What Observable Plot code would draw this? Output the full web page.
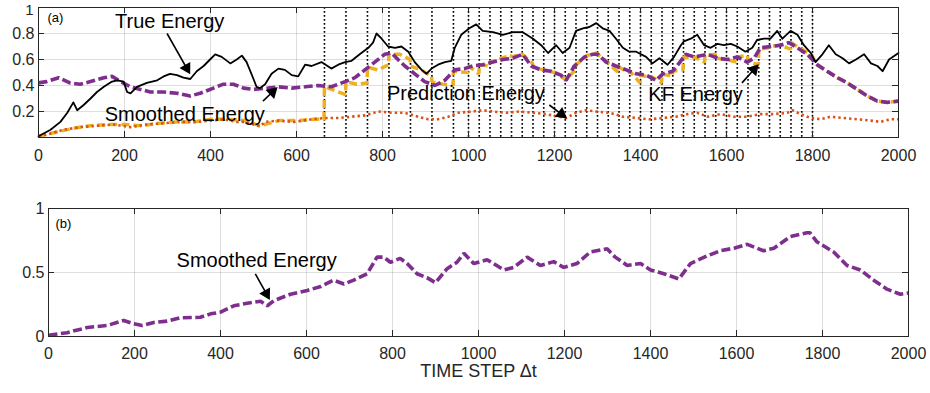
<!DOCTYPE html>
<html><head><meta charset="utf-8">
<script src="https://cdn.jsdelivr.net/npm/d3@7"></script>
<script src="https://cdn.jsdelivr.net/npm/@observablehq/plot@0.6"></script>
<style>
body{margin:0;background:#fff;font-family:"Liberation Sans",Arial,sans-serif}
#chart{position:relative;width:930px;height:393px;overflow:hidden}
#chart svg{display:block}
</style></head><body><div id="chart"></div>
<script>
// ---- data (time step, energy) ----
const xTicks = [0,200,400,600,800,1000,1200,1400,1600,1800,2000];
const yTicksA = [0.2,0.4,0.6,0.8,1];
const yTicksB = [0,0.5,1];

const trueEnergy = [[0,0.01],[28,0.06],[51,0.12],[67,0.19],[81,0.27],[90,0.21],[105,0.25],[121,0.30],[136,0.35],[152,0.39],[171,0.43],[183,0.44],[198,0.43],[206,0.35],[214,0.34],[229,0.39],[252,0.42],[276,0.44],[291,0.47],[306,0.49],[322,0.48],[337,0.46],[353,0.45],[368,0.51],[384,0.55],[399,0.60],[411,0.64],[426,0.62],[446,0.57],[461,0.60],[473,0.63],[484,0.58],[500,0.45],[507,0.39],[515,0.38],[527,0.41],[542,0.49],[558,0.53],[573,0.52],[589,0.48],[604,0.47],[620,0.56],[635,0.55],[658,0.58],[681,0.53],[697,0.56],[713,0.58],[728,0.59],[747,0.64],[767,0.69],[778,0.73],[786,0.80],[798,0.76],[813,0.70],[829,0.69],[844,0.70],[860,0.66],[875,0.58],[891,0.52],[902,0.49],[914,0.53],[929,0.56],[945,0.58],[960,0.59],[968,0.69],[983,0.79],[1002,0.84],[1018,0.87],[1033,0.82],[1057,0.81],[1080,0.79],[1103,0.81],[1126,0.81],[1150,0.76],[1169,0.71],[1185,0.65],[1204,0.71],[1219,0.65],[1235,0.69],[1250,0.82],[1266,0.84],[1281,0.85],[1297,0.88],[1312,0.84],[1328,0.82],[1343,0.76],[1359,0.69],[1374,0.66],[1390,0.66],[1413,0.62],[1428,0.57],[1444,0.61],[1463,0.56],[1478,0.62],[1494,0.71],[1501,0.74],[1517,0.76],[1532,0.79],[1548,0.71],[1563,0.69],[1579,0.72],[1594,0.71],[1610,0.72],[1625,0.70],[1644,0.66],[1660,0.69],[1671,0.75],[1687,0.76],[1702,0.76],[1718,0.82],[1730,0.76],[1749,0.82],[1765,0.79],[1780,0.71],[1796,0.65],[1807,0.58],[1823,0.64],[1838,0.71],[1854,0.64],[1870,0.61],[1885,0.57],[1901,0.60],[1920,0.64],[1936,0.57],[1951,0.55],[1963,0.51],[1978,0.60],[2000,0.65]];

const smoothedEnergyA = [[0,0.42],[19,0.43],[47,0.46],[73,0.42],[97,0.41],[121,0.43],[152,0.46],[171,0.47],[191,0.43],[214,0.39],[237,0.37],[260,0.35],[291,0.35],[322,0.34],[353,0.32],[376,0.34],[407,0.38],[430,0.41],[453,0.41],[477,0.38],[500,0.37],[534,0.38],[558,0.39],[589,0.38],[620,0.39],[650,0.40],[681,0.39],[713,0.43],[736,0.46],[759,0.52],[782,0.58],[805,0.64],[821,0.65],[836,0.60],[852,0.55],[875,0.49],[898,0.43],[922,0.40],[945,0.44],[968,0.52],[991,0.53],[1010,0.55],[1033,0.56],[1057,0.58],[1080,0.60],[1103,0.61],[1126,0.64],[1146,0.55],[1169,0.52],[1192,0.51],[1215,0.48],[1227,0.44],[1246,0.55],[1270,0.62],[1289,0.64],[1301,0.64],[1320,0.58],[1343,0.55],[1367,0.52],[1390,0.49],[1413,0.48],[1436,0.44],[1452,0.49],[1475,0.51],[1494,0.59],[1505,0.64],[1525,0.62],[1556,0.64],[1579,0.61],[1602,0.60],[1625,0.62],[1648,0.58],[1664,0.61],[1679,0.69],[1702,0.70],[1726,0.71],[1745,0.73],[1765,0.69],[1788,0.64],[1811,0.56],[1834,0.51],[1858,0.46],[1881,0.42],[1904,0.37],[1927,0.32],[1951,0.28],[1974,0.27],[2000,0.28]];

const predictionEnergy = [[0,0.01],[28,0.03],[59,0.06],[97,0.08],[136,0.09],[175,0.10],[214,0.08],[252,0.10],[291,0.11],[330,0.12],[368,0.12],[399,0.13],[430,0.14],[461,0.12],[484,0.12],[500,0.10],[515,0.085],[527,0.12],[558,0.13],[596,0.12],[635,0.14],[666,0.15],[697,0.15],[728,0.16],[759,0.17],[790,0.20],[821,0.19],[852,0.19],[883,0.16],[906,0.14],[929,0.14],[953,0.16],[976,0.19],[1010,0.20],[1033,0.21],[1057,0.20],[1088,0.19],[1119,0.20],[1150,0.19],[1180,0.18],[1211,0.16],[1227,0.15],[1250,0.19],[1274,0.21],[1297,0.20],[1328,0.19],[1359,0.16],[1390,0.15],[1421,0.14],[1452,0.15],[1483,0.16],[1509,0.18],[1532,0.19],[1556,0.16],[1587,0.18],[1617,0.16],[1648,0.16],[1679,0.18],[1711,0.18],[1741,0.19],[1753,0.21],[1772,0.18],[1796,0.15],[1819,0.14],[1842,0.16],[1873,0.15],[1904,0.14],[1935,0.13],[1958,0.12],[1981,0.14],[2000,0.14]];

const kfEnergy = [[0,0.01],[40,0.04],[80,0.07],[120,0.09],[160,0.10],[200,0.10],[240,0.09],[280,0.11],[320,0.12],[360,0.12],[400,0.14],[440,0.14],[480,0.13],[515,0.09],[560,0.13],[600,0.13],[640,0.14],[664,0.14],
[665,0.39],[690,0.36],[714,0.33],[715,0.43],[740,0.41],[764,0.42],[765,0.54],[790,0.52],[814,0.56],[815,0.64],[840,0.64],[864,0.60],[865,0.55],[890,0.52],[914,0.47],[915,0.43],[940,0.41],[964,0.40],[965,0.51],[999,0.50],
[1000,0.55],[1024,0.49],[1025,0.56],[1049,0.55],[1050,0.58],[1074,0.60],[1075,0.61],[1099,0.63],[1100,0.62],[1124,0.64],[1125,0.64],[1149,0.57],[1150,0.54],[1174,0.52],[1175,0.52],[1199,0.50],[1200,0.50],[1224,0.45],[1225,0.44],[1249,0.52],[1250,0.56],[1274,0.62],[1275,0.63],[1299,0.65],[1300,0.64],[1324,0.58],[1325,0.57],[1349,0.50],[1350,0.54],[1374,0.50],[1375,0.51],[1399,0.42],[1400,0.48],[1424,0.46],[1425,0.47],[1449,0.42],[1450,0.49],[1474,0.47],[1475,0.51],[1499,0.52],[1500,0.62],[1524,0.61],[1525,0.62],[1549,0.58],[1550,0.63],[1574,0.64],[1575,0.61],[1599,0.60],[1600,0.60],[1624,0.58],[1625,0.62],[1649,0.63],[1650,0.58],[1674,0.56],[1675,0.68],[1699,0.69],[1700,0.70],[1724,0.71],[1725,0.71],[1749,0.68],[1750,0.73],[1774,0.68],[1775,0.68],[1799,0.63],[1800,0.62],
[1811,0.56],[1834,0.51],[1858,0.46],[1881,0.42],[1904,0.37],[1927,0.32],[1951,0.28],[1974,0.27],[2000,0.28]];

const assimilationSteps = [665,715,765,815,865,915,965,1000,1025,1050,1075,1100,1125,1150,1175,1200,1225,1250,1275,1300,1325,1350,1375,1400,1425,1450,1475,1500,1525,1550,1575,1600,1625,1650,1675,1700,1725,1750,1775,1800];

const smoothedEnergyB = [[0,0.01],[43,0.03],[90,0.07],[136,0.086],[175,0.125],[198,0.10],[218,0.086],[245,0.11],[276,0.12],[307,0.146],[353,0.15],[377,0.177],[400,0.19],[431,0.24],[462,0.26],[493,0.276],[509,0.24],[524,0.28],[563,0.33],[602,0.36],[633,0.39],[663,0.44],[687,0.41],[710,0.44],[741,0.49],[764,0.62],[780,0.62],[795,0.58],[818,0.61],[834,0.57],[857,0.49],[880,0.46],[900,0.42],[927,0.53],[950,0.58],[966,0.65],[989,0.57],[1020,0.60],[1059,0.52],[1082,0.54],[1113,0.62],[1144,0.555],[1175,0.585],[1198,0.54],[1229,0.57],[1260,0.66],[1299,0.685],[1318,0.62],[1346,0.555],[1377,0.57],[1400,0.52],[1431,0.49],[1466,0.45],[1493,0.57],[1532,0.63],[1563,0.67],[1594,0.69],[1625,0.72],[1663,0.67],[1687,0.69],[1725,0.78],[1764,0.81],[1771,0.81],[1787,0.74],[1826,0.66],[1857,0.555],[1888,0.52],[1919,0.44],[1950,0.37],[1981,0.33],[2000,0.34]];

// annotations (data coordinates)
const labelsA = [
  {x:305, y:0.89, text:"True Energy"},
  {x:340, y:0.173, text:"Smoothed Energy"},
  {x:994, y:0.335, text:"Prediction Energy"},
  {x:1528, y:0.327, text:"KF Energy"}
];
const arrowsA = [
  {x1:299, y1:0.80, x2:352, y2:0.49},
  {x1:522, y1:0.28, x2:555, y2:0.385},
  {x1:1188, y1:0.25, x2:1228, y2:0.15},
  {x1:1636, y1:0.42, x2:1674, y2:0.56}
];
const labelsB = [{x:484, y:0.594, text:"Smoothed Energy"}];
const arrowsB = [{x1:481, y1:0.49, x2:514, y2:0.29}];

// ---- drawing ----
const C = {purple:"#7E2F8E", orange:"#EDB120", red:"#D95319", axis:"#262626"};
const fmt = d => `${d}`;
const style = {fontFamily:"'Liberation Sans', Arial, sans-serif", fontSize:"16px", color:"#262626", background:"#fff", overflow:"visible"};
const P = (d) => ({x: d[0], y: d[1]});

// filled arrow heads: shaft (link) + rotated triangle at the tip
function arrowMarks(arrows, kx, ky) {
  const tipBack = 6.5;
  const heads = arrows.map(a => {
    const px = (a.x2 - a.x1) * kx, py = -(a.y2 - a.y1) * ky;
    const L = Math.hypot(px, py), ux = px / L, uy = py / L;
    return {
      x: a.x2 - ux * tipBack / kx,
      y: a.y2 + uy * tipBack / ky,
      angle: Math.atan2(ux, -uy) * 180 / Math.PI
    };
  });
  return [
    Plot.link(arrows.map((a, i) => ({x1: a.x1, y1: a.y1, x2: heads[i].x, y2: heads[i].y})),
      {x1: "x1", y1: "y1", x2: "x2", y2: "y2", stroke: "#000", strokeWidth: 1.6}),
    Plot.dot(heads, {x: "x", y: "y", symbol: "triangle", r: 4.6, rotate: "angle", fill: "#000", stroke: "none"})
  ];
}

function frameTicks(xt, yt, h, w) {
  return [
    Plot.ruleX(xt, {insetTop: h - 6, stroke: C.axis}),
    Plot.ruleX(xt, {insetBottom: h - 6, stroke: C.axis}),
    Plot.ruleY(yt, {insetRight: w - 6, stroke: C.axis}),
    Plot.ruleY(yt, {insetLeft: w - 6, stroke: C.axis}),
    Plot.frame({stroke: C.axis, strokeWidth: 1})
  ];
}

const dashed = {strokeLinecap: "butt", strokeLinejoin: "miter"};
const yLabelsLow = yTicksA.filter(v => v < 1);
const yLabelsTop = yTicksA.filter(v => v >= 1);

const plotA = Plot.plot({
  width: 930, height: 171,
  marginLeft: 38, marginRight: 32, marginTop: 7, marginBottom: 34,
  style,
  x: {domain: [0, 2000]},
  y: {domain: [0, 1]},
  marks: [
    Plot.gridX(xTicks, {stroke: "#000", strokeOpacity: 0.13}),
    Plot.gridY(yTicksA, {stroke: "#000", strokeOpacity: 0.13}),
    Plot.ruleX(assimilationSteps, {stroke: "#000", strokeWidth: 1.6, strokeDasharray: "1.8,2.2"}),
    Plot.line(kfEnergy.map(P), {x: "x", y: "y", stroke: C.orange, strokeWidth: 3.5, strokeDasharray: "8,4", ...dashed}),
    Plot.line(predictionEnergy.map(P), {x: "x", y: "y", stroke: C.red, strokeWidth: 2.6, strokeDasharray: "2.4,3", ...dashed}),
    Plot.line(smoothedEnergyA.map(P), {x: "x", y: "y", stroke: C.purple, strokeWidth: 3.6, strokeDasharray: "9,3.5", ...dashed}),
    Plot.line(trueEnergy.map(P), {x: "x", y: "y", stroke: "#000", strokeWidth: 1.8}),
    ...arrowMarks(arrowsA, 860 / 2000, 130),
    Plot.text(labelsA, {x: "x", y: "y", text: "text", fontSize: 20, fill: "#000"}),
    Plot.text(["(a)"], {frameAnchor: "top-left", dx: 9, dy: 5, fontSize: 13, fill: "#000"}),
    ...frameTicks(xTicks, yTicksA, 130, 860),
    Plot.axisX(xTicks, {tickSize: 0, tickPadding: 12, tickFormat: fmt, fontSize: 16, label: null}),
    Plot.axisY(yLabelsLow, {tickSize: 0, tickPadding: 4, tickFormat: fmt, fontSize: 16, label: null}),
    Plot.axisY(yLabelsTop, {tickSize: 0, tickPadding: 5, tickFormat: fmt, fontSize: 15, dy: 3, label: null})
  ]
});

const plotB = Plot.plot({
  width: 930, height: 222,
  marginLeft: 48, marginRight: 22, marginTop: 37, marginBottom: 57,
  style,
  x: {domain: [0, 2000]},
  y: {domain: [0, 1]},
  marks: [
    Plot.gridX(xTicks, {stroke: "#000", strokeOpacity: 0.13}),
    Plot.gridY(yTicksB, {stroke: "#000", strokeOpacity: 0.13}),
    Plot.line(smoothedEnergyB.map(P), {x: "x", y: "y", stroke: C.purple, strokeWidth: 3.6, strokeDasharray: "9,3.5", ...dashed}),
    ...arrowMarks(arrowsB, 860 / 2000, 128),
    Plot.text(labelsB, {x: "x", y: "y", text: "text", fontSize: 20, fill: "#000"}),
    Plot.text(["(b)"], {frameAnchor: "top-left", dx: 7, dy: 10, fontSize: 13, fill: "#000"}),
    ...frameTicks(xTicks, yTicksB, 128, 860),
    Plot.axisX(xTicks, {tickSize: 0, tickPadding: 11, tickFormat: fmt, fontSize: 16, label: null}),
    Plot.axisY(yTicksB, {tickSize: 0, tickPadding: 4, tickFormat: fmt, fontSize: 16, label: null}),
    Plot.text(["TIME STEP Δt"], {frameAnchor: "bottom", dy: 40, fontSize: 18, fill: "#262626"})
  ]
});

const root = document.getElementById("chart");
root.append(plotA, plotB);
</script></body></html>
